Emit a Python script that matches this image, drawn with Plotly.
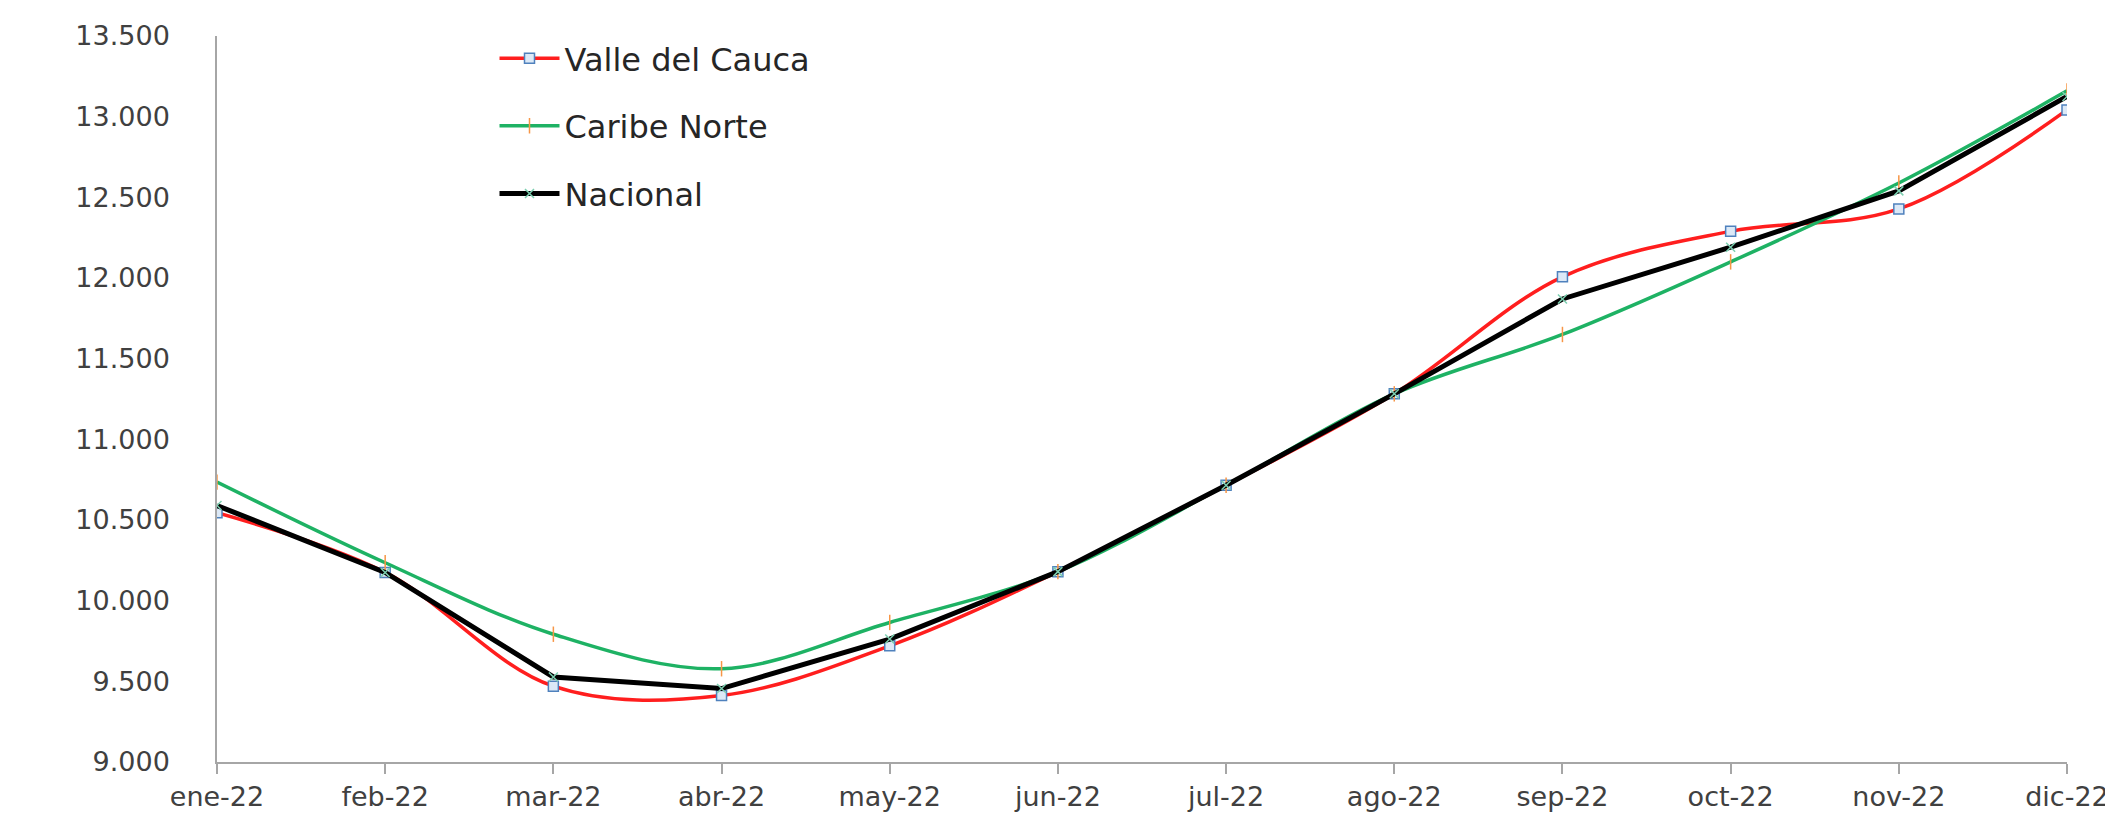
import plotly.graph_objects as go

months = ["ene-22", "feb-22", "mar-22", "abr-22", "may-22", "jun-22",
          "jul-22", "ago-22", "sep-22", "oct-22", "nov-22", "dic-22"]

valle = [10545, 10175, 9470, 9412, 9720, 10180, 10715, 11282, 12007, 12289, 12428, 13042]
caribe = [10735, 10235, 9792, 9578, 9865, 10180, 10715, 11282, 11650, 12100, 12589, 13160]
nacional = [10590, 10175, 9527, 9455, 9762, 10180, 10715, 11282, 11870, 12191, 12540, 13125]

y_ticks = [9000, 9500, 10000, 10500, 11000, 11500, 12000, 12500, 13000, 13500]

FONT = "DejaVu Sans"

fig = go.Figure()

fig.add_trace(go.Scatter(
    x=months, y=valle, name="Valle del Cauca", mode="lines+markers",
    line=dict(color="#FF1E1E", width=3.5, shape="spline", smoothing=1.0),
    marker=dict(symbol="square", size=10, color="#DCE9F7",
                line=dict(color="#4F81BD", width=1.5)),
    legendgroup="a",
))
fig.add_trace(go.Scatter(
    x=months, y=caribe, name="Caribe Norte", mode="lines+markers",
    line=dict(color="#1EB264", width=3.5, shape="spline", smoothing=1.0),
    marker=dict(symbol="line-ns", size=11, color="#F79646",
                line=dict(color="#F79646", width=1.5)),
    legendgroup="b",
))
fig.add_trace(go.Scatter(
    x=months, y=nacional, name="Nacional", mode="lines+markers",
    line=dict(color="#000000", width=5, shape="linear"),
    marker=dict(symbol="x-thin", size=9, color="#7CCFB0",
                line=dict(color="#7CCFB0", width=1.5)),
    legendgroup="c",
))

fig.update_layout(
    width=2113, height=816,
    margin=dict(l=209, r=50, t=28, b=52),
    paper_bgcolor="white", plot_bgcolor="white",
    separators=",.",
    font=dict(family=FONT, size=27, color="#404040"),
    showlegend=True,
    legend=dict(
        x=0.150, y=1.007, xanchor="left", yanchor="top",
        font=dict(family=FONT, size=32, color="#262626"),
        tracegroupgap=23,
        bgcolor="rgba(255,255,255,0)",
        itemwidth=60,
    ),
    xaxis=dict(
        type="category", range=[0, 11],
        showgrid=False, showline=True, linecolor="#A6A6A6", linewidth=1.5,
        ticks="outside", ticklen=10, tickcolor="#A6A6A6", tickwidth=1.5,
        tickfont=dict(family=FONT, size=27, color="#404040"),
        zeroline=False,
    ),
    yaxis=dict(
        range=[9000, 13500], tickvals=y_ticks, tickformat=",.0f",
        showgrid=False, showline=True, linecolor="#A6A6A6", linewidth=1.5,
        ticks="", ticklabelstandoff=40,
        tickfont=dict(family=FONT, size=27, color="#404040"),
        zeroline=False,
    ),
)

fig.write_html("out.html")
